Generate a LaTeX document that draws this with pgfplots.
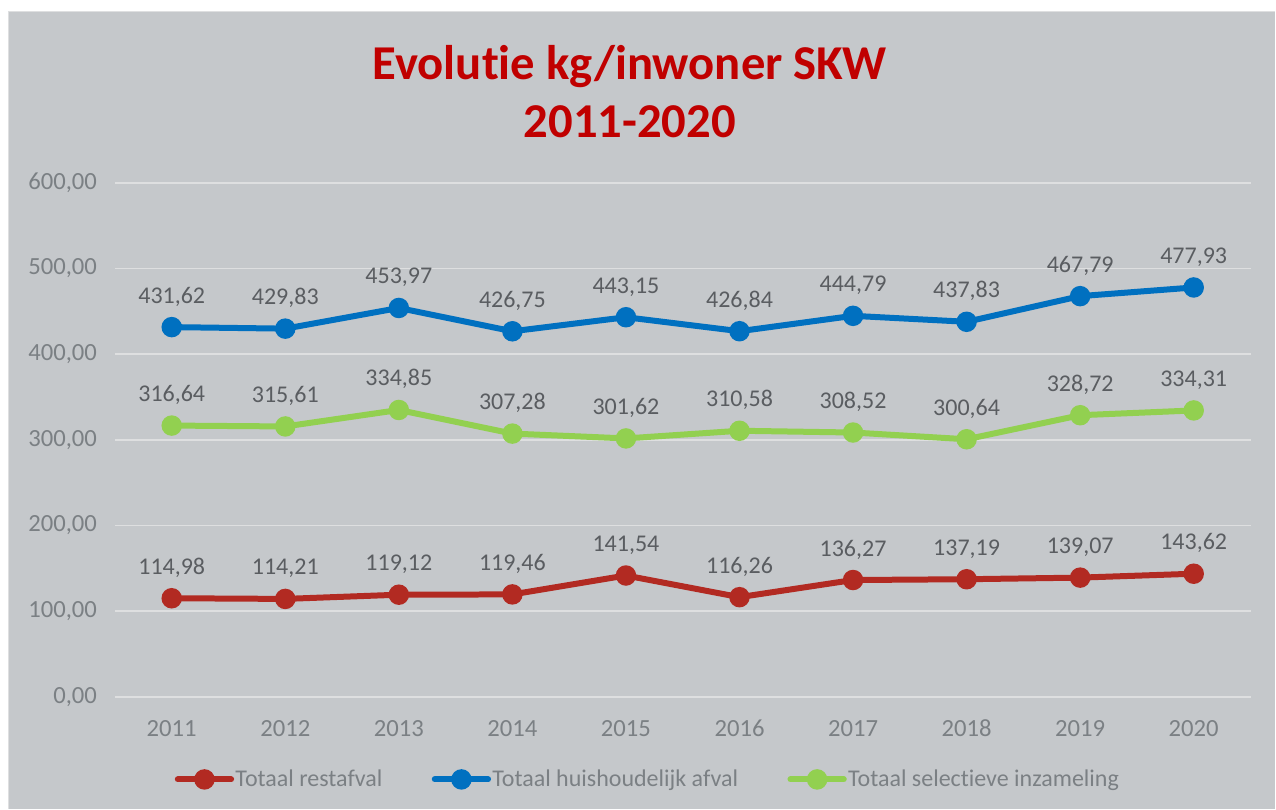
\documentclass[border=0pt]{standalone}
\usepackage{pgfplots}
\pgfplotsset{compat=1.18}
\usepackage{fontspec}
\setmainfont[Ligatures={NoCommon}]{Carlito}

\definecolor{bg}{HTML}{C5C8CB}
\definecolor{gridc}{HTML}{DEDFE0}
\definecolor{titlered}{HTML}{C00000}
\definecolor{restred}{HTML}{B22A22}
\definecolor{huisblue}{HTML}{0070C0}
\definecolor{selgreen}{HTML}{92D050}
\definecolor{lblgray}{HTML}{5A5D61}
\definecolor{tickgray}{HTML}{7B8084}

\pgfplotstableread{
x rest huis sel
0 114.98 431.62 316.64
1 114.21 429.83 315.61
2 119.12 453.97 334.85
3 119.46 426.75 307.28
4 141.54 443.15 301.62
5 116.26 426.84 310.58
6 136.27 444.79 308.52
7 137.19 437.83 300.64
8 139.07 467.79 328.72
9 143.62 477.93 334.31
}\data

\begin{document}
\begin{tikzpicture}[x=1pt,y=1pt]
% page and chart area
\fill[white] (0,0) rectangle (957,606.75);
\fill[bg] (6,0) rectangle (957,598.5);
\draw[gridc, line width=0.8pt] (6.4,0) -- (6.4,598.1) -- (957,598.1);

\node[font=\fontsize{36.5}{43}\selectfont\bfseries, text=titlered, align=center]
  at (472.5,538) {Evolutie kg/inwoner SKW\\2011-2020};

\begin{axis}[
  at={(86.25pt,84pt)}, anchor=south west,
  scale only axis,
  width=852pt, height=385.5pt,
  xmin=-0.5, xmax=9.5,
  ymin=0, ymax=600,
  xtick=data,
  xticklabels={2011,2012,2013,2014,2015,2016,2017,2018,2019,2020},
  ytick={0,100,200,300,400,500,600},
  axis line style={draw=none},
  major tick length=0pt,
  ymajorgrids,
  grid style={gridc, line width=1.2pt},
  clip=false,
  /pgf/number format/assume math mode=true,
  /pgf/number format/.cd, fixed, fixed zerofill, precision=2, use comma, 1000 sep={},
  /pgfplots/.cd,
  tick label style={font=\fontsize{18.5}{20}\selectfont, text=tickgray},
  yticklabel style={xshift=-10pt},
  xticklabel style={yshift=-14pt},
  nodes near coords,
  every node near coord/.style={font=\fontsize{18}{20}\selectfont, text=lblgray,
    anchor=base, inner sep=0pt, yshift=18pt},
  every axis plot/.append style={line width=4.5pt, mark=*, mark size=5.4pt},
  legend columns=3,
  legend style={at={(0.469,-0.161)}, anchor=center, draw=none, fill=none,
    font=\fontsize{18}{20}\selectfont, text=tickgray,
    /tikz/every even column/.append style={column sep=36pt},
    nodes={inner sep=1pt}},
  legend image code/.code={\draw[mark repeat=2, mark phase=2, line cap=round, #1]
    plot coordinates {(0pt,0pt) (20pt,0pt) (40pt,0pt)};},
]
\addplot[restred, mark options={fill=restred}] table[x=x, y=rest] {\data};
\addlegendentry{Totaal restafval}
\addplot[huisblue, mark options={fill=huisblue}] table[x=x, y=huis] {\data};
\addlegendentry{Totaal huishoudelijk afval}
\addplot[selgreen, mark options={fill=selgreen}] table[x=x, y=sel] {\data};
\addlegendentry{Totaal selectieve inzameling}
\end{axis}
\end{tikzpicture}
\end{document}
